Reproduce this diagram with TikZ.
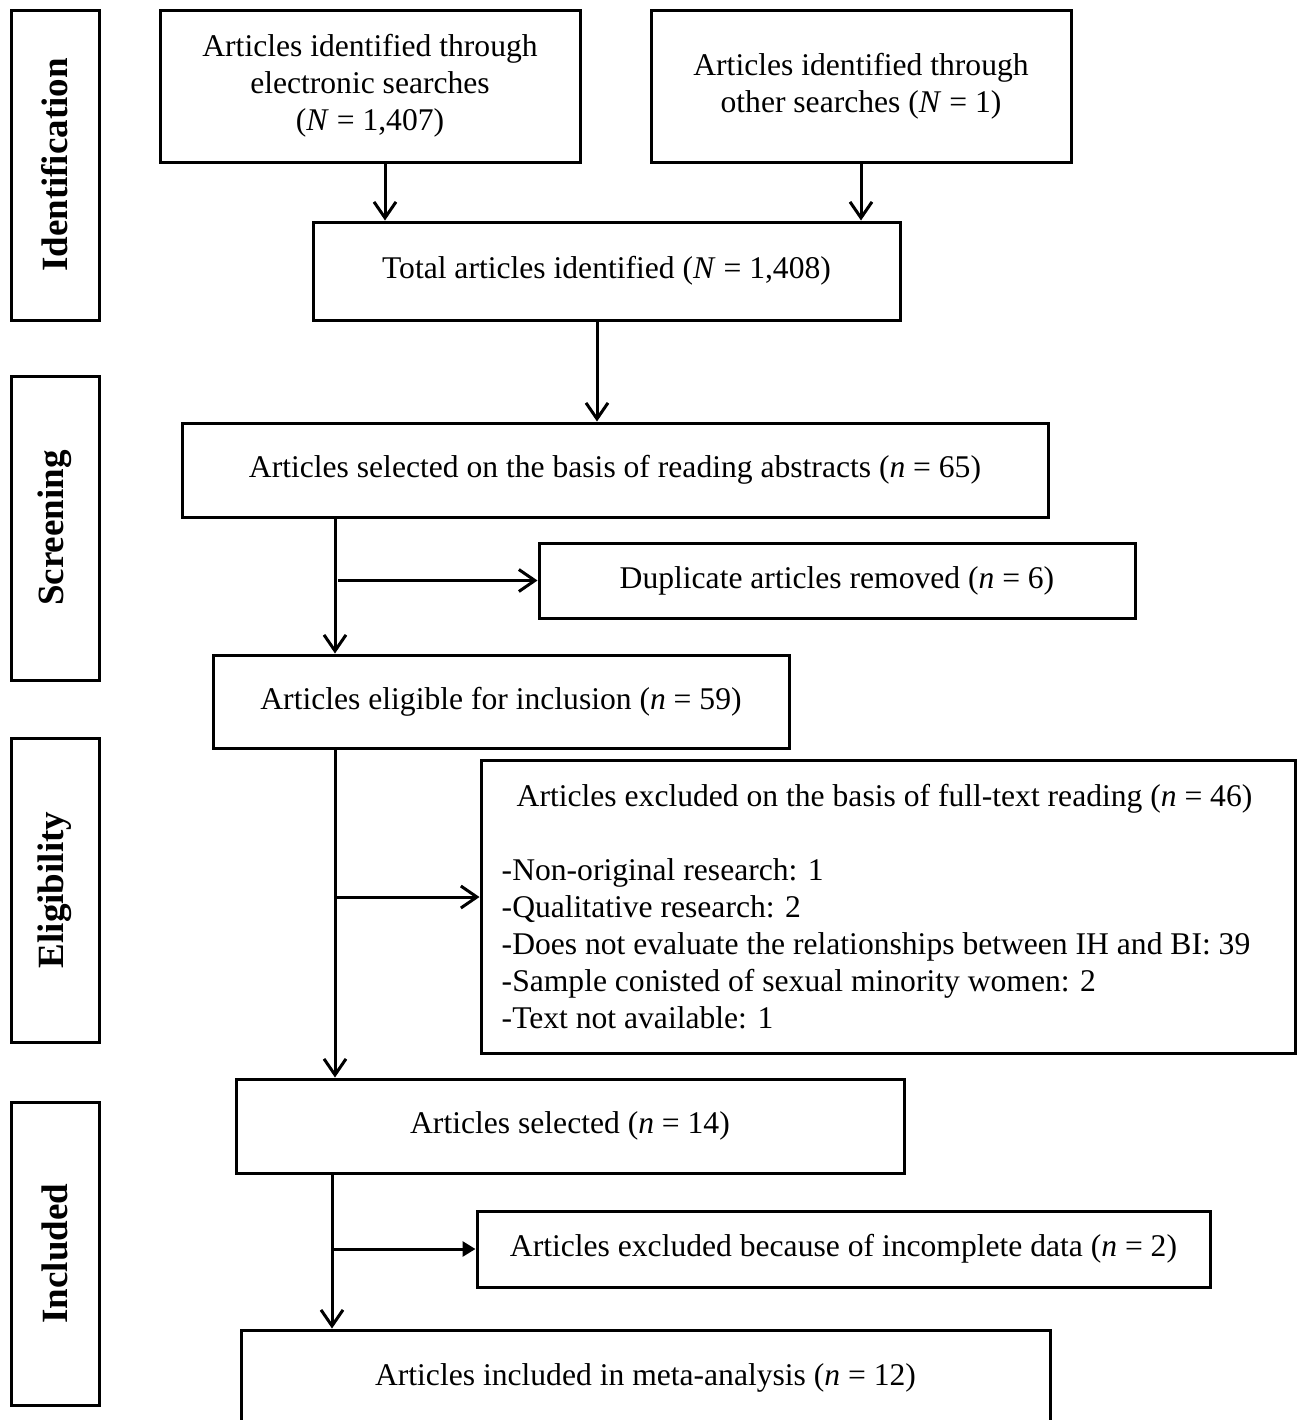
\documentclass[tikz,border=0pt]{standalone}
\usepackage{fontspec}
\setmainfont{Liberation Serif}
\usetikzlibrary{arrows.meta}

\tikzset{
  box/.style={draw, shape=rectangle, line width=1.5pt, inner sep=0pt, align=center, font=\fontsize{15.8}{18.5}\selectfont},
  phase/.style={draw, shape=rectangle, line width=1.5pt, inner sep=0pt, minimum height=44pt, rotate=90, font=\fontsize{18.5}{22}\selectfont\bfseries},
  arr/.style={line width=1.5pt, -{Straight Barb[length=8pt, width=11pt, line width=1.5pt]}},
  arrfill/.style={line width=1.5pt, -{Triangle[length=6.5pt, width=7.5pt]}}
}

\begin{document}
\begin{tikzpicture}[x=0.5pt, y=-0.5pt]
\useasboundingbox (0,0) rectangle (1303,1420);
\clip (0,0) rectangle (1303,1420);
% phase labels
\node[phase, minimum width=155pt] (ident) at (55,165) {Identification};
\node[phase, minimum width=152pt] (screen) at (55,528) {Screening};
\node[phase, minimum width=152pt] (elig) at (55,890) {Eligibility};
\node[phase, minimum width=151.5pt] (incl) at (55,1253.5) {Included};
% flow boxes
\node[box, minimum width=210pt, minimum height=76pt] (elec) at (370,86) {Articles identified through\\electronic searches\\(\textit{N} = 1,407)};
\node[box, minimum width=210pt, minimum height=76pt, right of=elec, node distance=245.5pt] (other) {Articles identified through\\other searches (\textit{N} = 1)};
\node[box, minimum width=293.5pt, minimum height=49pt, below of=elec, node distance=92.5pt, xshift=118.25pt] (total) {Total articles identified (\textit{N} = 1,408)};
\node[box, minimum width=433pt, minimum height=47pt, below of=total, node distance=99.5pt, xshift=4.25pt] (abstr) {Articles selected on the basis of reading abstracts (\textit{n} = 65)};
\node[box, minimum width=298pt, minimum height=37.5pt, below of=abstr, node distance=55.25pt, xshift=111pt] (dupl) {Duplicate articles removed (\textit{n} = 6)};
\node[box, minimum width=288pt, minimum height=46.5pt, below of=abstr, node distance=115.75pt, xshift=-57pt] (eligible) {Articles eligible for inclusion (\textit{n} = 59)};
\node[box, minimum width=407pt, minimum height=146.5pt, below of=eligible, node distance=102.5pt, xshift=193.5pt, align=left] (fulltext) {\hspace*{7.5pt}Articles excluded on the basis of full-text reading (\textit{n} = 46)\\[18.5pt]
-Non-original research: 1\\
-Qualitative research: 2\\
-Does not evaluate the relationships between IH and BI: 39\makebox[12pt]{}\\
-Sample conisted of sexual minority women: 2\\
-Text not available: 1};
\node[box, minimum width=334pt, minimum height=47pt, below of=eligible, node distance=212.25pt, xshift=34.5pt] (selected) {Articles selected (\textit{n} = 14)};
\node[box, minimum width=366.5pt, minimum height=38pt, below of=selected, node distance=61.5pt, xshift=136.75pt] (incompl) {Articles excluded because of incomplete data (\textit{n} = 2)};
\node[box, minimum width=404.5pt, minimum height=48pt, below of=selected, node distance=126pt, xshift=37.75pt] (meta) {Articles included in meta-analysis (\textit{n} = 12)};
% connectors
\coordinate (trunk) at (335,0);
\coordinate (fullin) at ([yshift=4.75pt] fulltext.west);
\draw[arr] ([xshift=7.5pt] elec.south) -- ([xshift=7.5pt] elec.south |- total.north);
\draw[arr] (other.south) -- (other.south |- total.north);
\draw[arr] ([xshift=-4.75pt] total.south) -- ([xshift=-4.75pt] total.south |- abstr.north);
\draw[arr] (abstr.south -| trunk) -- (eligible.north -| trunk);
\draw[arr] ([xshift=1.5pt] trunk |- dupl.west) -- (dupl.west);
\draw[arr] (eligible.south -| trunk) -- (selected.north -| trunk);
\draw[arr] (fullin -| trunk) -- (fullin);
\draw[arr] ([xshift=-1.5pt] selected.south -| trunk) -- ([xshift=-1.5pt] meta.north -| trunk);
\draw[arrfill] ([xshift=-1.5pt] trunk |- incompl.west) -- (incompl.west);
\end{tikzpicture}
\end{document}
